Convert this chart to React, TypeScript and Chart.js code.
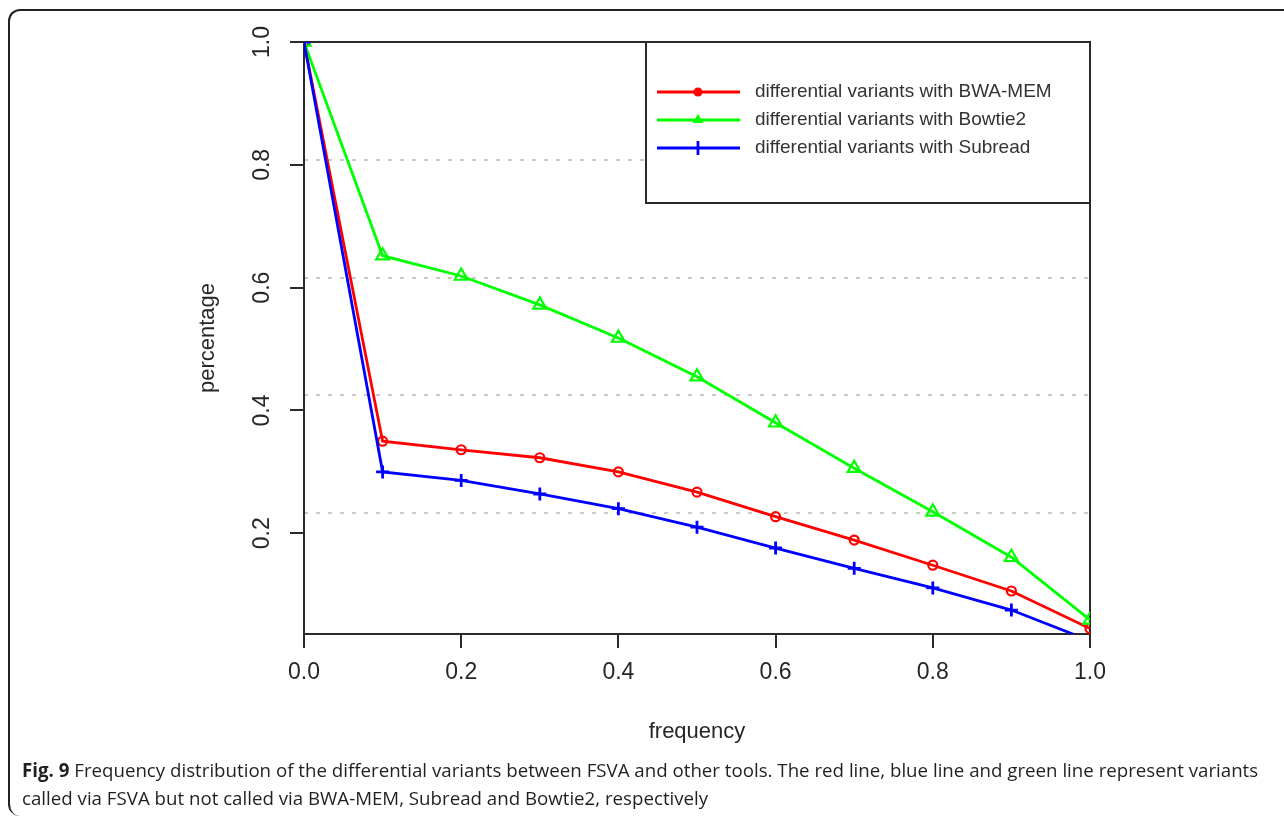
import React, { useEffect, useRef } from 'react';
import { Chart, registerables } from 'chart.js';

Chart.register(...registerables);

const frequency = [0, 0.1, 0.2, 0.3, 0.4, 0.5, 0.6, 0.7, 0.8, 0.9, 1.0];
const bwaMem = [1.0, 0.350, 0.336, 0.323, 0.300, 0.267, 0.227, 0.189, 0.148, 0.106, 0.045];
const bowtie2 = [1.0, 0.652, 0.619, 0.572, 0.518, 0.455, 0.380, 0.306, 0.235, 0.161, 0.059];
const subread = [1.0, 0.300, 0.286, 0.264, 0.240, 0.210, 0.176, 0.143, 0.111, 0.075, 0.025];

const seriesLabels = [
  'differential variants with BWA-MEM',
  'differential variants with Bowtie2',
  'differential variants with Subread',
];
const seriesColors = ['#ff0000', '#00ff00', '#0000ff'];

const xTicks = [0, 0.2, 0.4, 0.6, 0.8, 1.0];
const yTicks = [0.2, 0.4, 0.6, 0.8, 1.0];
const gridLevels = [0.233, 0.425, 0.616, 0.808];
const xMin = 0;
const xMax = 1;
const yMin = 0.036;
const yMax = 1.0;

const FONT = "'Liberation Sans', Arial, sans-serif";
const AXIS_COLOR = '#2a2a2a';
const TEXT_COLOR = '#262626';

const boxLegend = {
  id: 'boxLegend',
  afterDraw(chart: any) {
    const { ctx, chartArea } = chart;
    const right = chartArea.right;
    const top = chartArea.top;
    const left = right - 444;
    const bottom = top + 161;
    ctx.save();
    ctx.fillStyle = '#ffffff';
    ctx.fillRect(left, top, right - left, bottom - top);
    ctx.strokeStyle = AXIS_COLOR;
    ctx.lineWidth = 2;
    ctx.strokeRect(left, top, right - left, bottom - top);
    chart.data.datasets.forEach((ds: any, i: number) => {
      const y = top + 50 + i * 28;
      ctx.strokeStyle = ds.borderColor;
      ctx.fillStyle = ds.borderColor;
      ctx.lineWidth = 2.8;
      ctx.beginPath();
      ctx.moveTo(left + 11, y);
      ctx.lineTo(left + 94, y);
      ctx.stroke();
      const mx = left + 52;
      if (ds.pointStyle === 'circle') {
        ctx.beginPath();
        ctx.arc(mx, y, 4.5, 0, Math.PI * 2);
        ctx.fill();
      } else if (ds.pointStyle === 'triangle') {
        ctx.beginPath();
        ctx.moveTo(mx, y - 6);
        ctx.lineTo(mx + 5.5, y + 3);
        ctx.lineTo(mx - 5.5, y + 3);
        ctx.closePath();
        ctx.fill();
      } else {
        ctx.beginPath();
        ctx.moveTo(mx, y - 7);
        ctx.lineTo(mx, y + 7);
        ctx.stroke();
      }
      ctx.fillStyle = '#333333';
      ctx.font = `19px ${FONT}`;
      ctx.textAlign = 'left';
      ctx.textBaseline = 'middle';
      ctx.fillText(ds.label, left + 109, y);
    });
    ctx.restore();
  },
};

export default function App() {
  const canvasRef = useRef<HTMLCanvasElement | null>(null);

  useEffect(() => {
    if (!canvasRef.current) return;
    const mk = (vals: number[]) => frequency.map((f, i) => ({ x: f, y: vals[i] }));
    const chart = new Chart(canvasRef.current, {
      type: 'line',
      data: {
        datasets: [
          {
            label: seriesLabels[0],
            data: mk(bwaMem),
            borderColor: seriesColors[0],
            borderWidth: 2.8,
            pointStyle: 'circle',
            pointRadius: 4.5,
            pointBorderWidth: 2.2,
            pointBorderColor: seriesColors[0],
            pointBackgroundColor: 'rgba(0,0,0,0)',
            tension: 0,
            clip: 0,
            order: 3,
          },
          {
            label: seriesLabels[1],
            data: mk(bowtie2),
            borderColor: seriesColors[1],
            borderWidth: 2.8,
            pointStyle: 'triangle',
            pointRadius: 7.5,
            pointBorderWidth: 2.2,
            pointBorderColor: seriesColors[1],
            pointBackgroundColor: 'rgba(0,0,0,0)',
            tension: 0,
            clip: 0,
            order: 2,
          },
          {
            label: seriesLabels[2],
            data: mk(subread),
            borderColor: seriesColors[2],
            borderWidth: 2.8,
            pointStyle: 'cross',
            pointRadius: 6.5,
            pointBorderWidth: 2.8,
            pointBorderColor: seriesColors[2],
            pointBackgroundColor: 'rgba(0,0,0,0)',
            tension: 0,
            clip: 0,
            order: 1,
          },
        ] as any,
      },
      options: {
        animation: false,
        responsive: false,
        devicePixelRatio: 1,
        layout: { padding: { left: 195, right: 194, top: 42, bottom: 15 } },
        plugins: {
          legend: { display: false },
          tooltip: { enabled: false },
        },
        scales: {
          x: {
            type: 'linear',
            position: 'bottom',
            min: xMin,
            max: xMax,
            afterBuildTicks: (s: any) => {
              s.ticks = xTicks.map((v) => ({ value: v }));
            },
            afterFit: (s: any) => {
              s.height = 111;
            },
            ticks: {
              callback: (v: any) => Number(v).toFixed(1),
              color: TEXT_COLOR,
              font: { family: FONT, size: 23 },
              padding: 11,
              maxRotation: 0,
              autoSkip: false,
            },
            grid: {
              drawOnChartArea: false,
              drawTicks: true,
              tickLength: 14,
              color: AXIS_COLOR,
              lineWidth: 2,
            },
            border: { display: true, color: AXIS_COLOR, width: 2 },
            title: {
              display: true,
              text: 'frequency',
              color: TEXT_COLOR,
              font: { family: FONT, size: 22 },
              padding: 0,
            },
          },
          x2: {
            type: 'linear',
            position: 'top',
            min: xMin,
            max: xMax,
            afterFit: (s: any) => {
              s.height = 0;
            },
            ticks: { display: false },
            grid: { drawOnChartArea: false, drawTicks: false },
            border: { display: true, color: AXIS_COLOR, width: 2 },
          },
          y: {
            type: 'linear',
            position: 'left',
            min: yMin,
            max: yMax,
            afterBuildTicks: (s: any) => {
              s.ticks = yTicks.map((v) => ({ value: v }));
            },
            afterFit: (s: any) => {
              s.width = 109;
            },
            ticks: {
              callback: (v: any) => Number(v).toFixed(1),
              color: TEXT_COLOR,
              font: { family: FONT, size: 23 },
              padding: 11,
              minRotation: 90,
              maxRotation: 90,
              crossAlign: 'center',
              autoSkip: false,
            },
            grid: {
              drawOnChartArea: false,
              drawTicks: true,
              tickLength: 14,
              color: AXIS_COLOR,
              lineWidth: 2,
            },
            border: { display: true, color: AXIS_COLOR, width: 2 },
            title: {
              display: true,
              text: 'percentage',
              color: TEXT_COLOR,
              font: { family: FONT, size: 22 },
              padding: 0,
            },
          },
          yg: {
            type: 'linear',
            position: 'left',
            min: yMin,
            max: yMax,
            afterBuildTicks: (s: any) => {
              s.ticks = gridLevels.map((v) => ({ value: v }));
            },
            afterFit: (s: any) => {
              s.width = 0;
            },
            ticks: { display: false },
            grid: {
              drawOnChartArea: true,
              drawTicks: false,
              color: '#c8c8c8',
              lineWidth: 2,
            },
            border: { display: false, dash: [4, 8] },
          },
          y2: {
            type: 'linear',
            position: 'right',
            min: yMin,
            max: yMax,
            afterFit: (s: any) => {
              s.width = 0;
            },
            ticks: { display: false },
            grid: { drawOnChartArea: false, drawTicks: false },
            border: { display: true, color: AXIS_COLOR, width: 2 },
          },
        },
      } as any,
      plugins: [boxLegend],
    });
    return () => chart.destroy();
  }, []);

  return (
    <>
      <div
        style={{
          position: 'fixed',
          left: 8,
          top: 9,
          width: 1276,
          height: 807,
          boxSizing: 'border-box',
          borderTop: '2px solid #222',
          borderLeft: '2px solid #222',
          borderTopLeftRadius: 12,
          borderBottomLeftRadius: 12,
        }}
      />
      <canvas
        ref={canvasRef}
        width={1284}
        height={760}
        style={{ position: 'fixed', left: 0, top: 0, width: 1284, height: 760 }}
      />
      <div
        style={{
          position: 'fixed',
          left: 22,
          top: 756,
          fontFamily: "'Open Sans', 'Noto Sans', sans-serif",
          fontSize: 18.7,
          lineHeight: '28px',
          color: '#231f20',
          whiteSpace: 'nowrap',
        }}
      >
        <b>Fig. 9</b> Frequency distribution of the differential variants between FSVA and other tools. The red line, blue line and green line represent variants
        <br />
        called via FSVA but not called via BWA-MEM, Subread and Bowtie2, respectively
      </div>
    </>
  );
}
